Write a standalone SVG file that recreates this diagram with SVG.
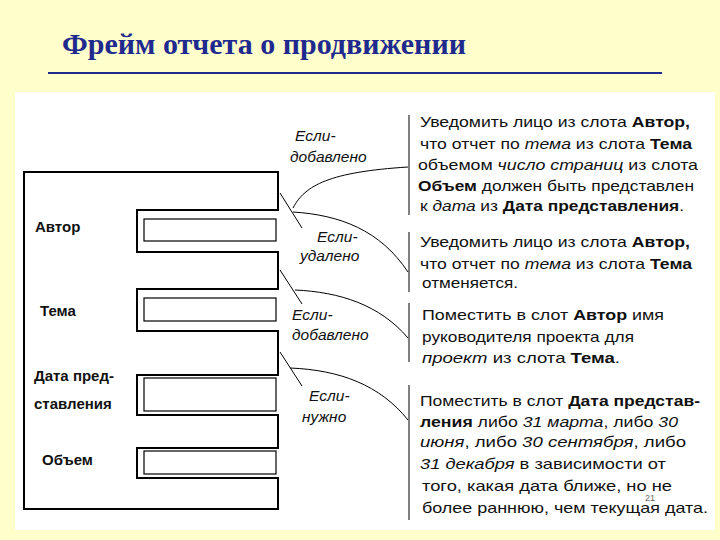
<svg xmlns="http://www.w3.org/2000/svg" width="720" height="540" viewBox="0 0 720 540">
<style>
.t{font-family:"Liberation Sans",Arial,sans-serif;font-size:14.5px;fill:#111}
.b{font-weight:bold}
.i{font-style:italic}
.l{font-family:"Liberation Sans",Arial,sans-serif;font-size:15px;font-weight:bold;fill:#111}
.e{font-family:"Liberation Sans",Arial,sans-serif;font-size:15.5px;font-style:italic;fill:#111}
.ln{fill:none;stroke:#000;stroke-width:1}
</style>
<rect width="720" height="540" fill="#FFFFCC"/>
<rect x="15" y="92" width="700" height="438" fill="#fff"/>
<text x="62" y="54" font-family="Liberation Serif,serif" font-size="30" font-weight="bold" fill="#1F2A8F">Фрейм отчета о продвижении</text>
<line x1="48" y1="73" x2="662" y2="73" stroke="#1F2A8F" stroke-width="2"/>
<g id="frame">
<path d="M24,172 H278 V210 H137 V252 H278 V289 H137 V331 H278 V375 H137 V415 H278 V448 H137 V478 H278 V509 H24 Z" fill="none" stroke="#000" stroke-width="2"/>
</g>
<g id="slot-avtor"><rect x="144" y="219" width="132" height="22" fill="none" stroke="#000" stroke-width="1.2"/><text class="l" x="35" y="232">Автор</text></g>
<g id="slot-tema"><rect x="144" y="298" width="132" height="23" fill="none" stroke="#000" stroke-width="1.2"/><text class="l" x="40" y="316">Тема</text></g>
<g id="slot-data"><rect x="144" y="378" width="132" height="33" fill="none" stroke="#000" stroke-width="1.2"/><text class="l" x="34" y="381">Дата пред-</text><text class="l" x="34" y="409">ставления</text></g>
<g id="slot-obem"><rect x="144" y="451" width="132" height="23" fill="none" stroke="#000" stroke-width="1.2"/><text class="l" x="42" y="465">Объем</text></g>
<g id="connectors">
<line class="ln" x1="280" y1="193" x2="302" y2="228"/>
<path class="ln" d="M293,208 C305,185 330,172 408,167"/>
<path class="ln" d="M293,212 C340,215 380,230 408,272"/>
<line class="ln" x1="280" y1="270" x2="302" y2="304"/>
<path class="ln" d="M295,290 C340,292 380,305 408,338"/>
<line class="ln" x1="280" y1="352" x2="302" y2="386"/>
<path class="ln" d="M290,368 C340,370 380,385 408,420"/>
<path class="ln" stroke-width="1.5" d="M409,115 V215 M409,232 V292 M409,303 V362 M409,385 V520"/>
</g>
<g id="labels">
<text class="e" x="295" y="141">Если-</text><text class="e" x="290" y="162">добавлено</text>
<text class="e" x="317" y="242">Если-</text><text class="e" x="300" y="261">удалено</text>
<text class="e" x="292" y="320">Если-</text><text class="e" x="292" y="340">добавлено</text>
<text class="e" x="309" y="401">Если-</text><text class="e" x="302" y="422">нужно</text>
</g>
<g id="action1">
<text class="t" x="420" y="127" textLength="270" lengthAdjust="spacingAndGlyphs">Уведомить лицо из слота <tspan class="b">Автор,</tspan></text>
<text class="t" x="420" y="149" textLength="272" lengthAdjust="spacingAndGlyphs">что отчет по <tspan class="i">тема</tspan> из слота <tspan class="b">Тема</tspan></text>
<text class="t" x="418" y="170" textLength="280" lengthAdjust="spacingAndGlyphs">объемом <tspan class="i">число страниц</tspan> из слота</text>
<text class="t" x="418" y="191" textLength="276" lengthAdjust="spacingAndGlyphs"><tspan class="b">Объем</tspan> должен быть представлен</text>
<text class="t" x="420" y="211" textLength="264" lengthAdjust="spacingAndGlyphs">к <tspan class="i">дата</tspan> из <tspan class="b">Дата представления</tspan>.</text>
</g>
<g id="action2">
<text class="t" x="420" y="247" textLength="270" lengthAdjust="spacingAndGlyphs">Уведомить лицо из слота <tspan class="b">Автор,</tspan></text>
<text class="t" x="420" y="269" textLength="272" lengthAdjust="spacingAndGlyphs">что отчет по <tspan class="i">тема</tspan> из слота <tspan class="b">Тема</tspan></text>
<text class="t" x="422" y="288" textLength="96" lengthAdjust="spacingAndGlyphs">отменяется.</text>
</g>
<g id="action3">
<text class="t" x="422" y="320" textLength="242" lengthAdjust="spacingAndGlyphs">Поместить в слот <tspan class="b">Автор</tspan> имя</text>
<text class="t" x="422" y="342" textLength="212" lengthAdjust="spacingAndGlyphs">руководителя проекта для</text>
<text class="t" x="422" y="363" textLength="198" lengthAdjust="spacingAndGlyphs"><tspan class="i">проект</tspan> из слота <tspan class="b">Тема</tspan>.</text>
</g>
<g id="action4">
<text class="t" x="420" y="406" textLength="280" lengthAdjust="spacingAndGlyphs">Поместить в слот <tspan class="b">Дата представ-</tspan></text>
<text class="t" x="420" y="427" textLength="258" lengthAdjust="spacingAndGlyphs"><tspan class="b">ления</tspan> либо <tspan class="i">31 марта</tspan>, либо <tspan class="i">30</tspan></text>
<text class="t" x="420" y="447" textLength="266" lengthAdjust="spacingAndGlyphs"><tspan class="i">июня</tspan>, либо <tspan class="i">30 сентября</tspan>, либо</text>
<text class="t" x="420" y="469" textLength="246" lengthAdjust="spacingAndGlyphs"><tspan class="i">31 декабря</tspan> в зависимости от</text>
<text class="t" x="422" y="491" textLength="250" lengthAdjust="spacingAndGlyphs">того, какая дата ближе, но не</text>
<text class="t" x="422" y="513" textLength="286" lengthAdjust="spacingAndGlyphs">более раннюю, чем текущая дата.</text>
<text x="645" y="501" font-family="Liberation Sans,sans-serif" font-size="9" fill="#666">21</text>
</g>
</svg>
